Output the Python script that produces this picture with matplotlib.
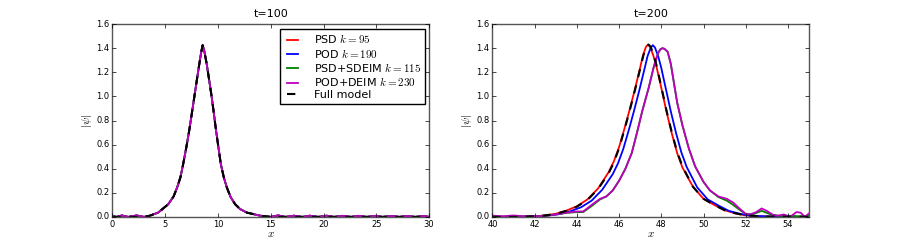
''' NLS soliton: reduced models vs full model at t=100 and t=200 '''

import numpy as np
import matplotlib
matplotlib.use('Agg')
import matplotlib.pyplot as plt

plt.style.use('classic')
plt.rcParams['figure.facecolor'] = 'white'
plt.rcParams['savefig.facecolor'] = 'white'
plt.rcParams['mathtext.fontset'] = 'cm'
plt.rcParams['font.family'] = ['DejaVu Sans']

labels = [r'PSD $k=95$', r'POD $k=190$', r'PSD+SDEIM $k=115$',
          r'POD+DEIM $k=230$', 'Full model']
colors = ['r', 'b', 'g', 'm']

# ---- t = 100 (all models on top of each other) ----
x100 = [0, 3, 3.55, 4.34, 5.29, 5.8, 6.14, 6.45, 6.71, 7.0, 7.28, 7.52, 7.76,
        8.0, 8.24, 8.4, 8.55, 8.7, 8.93, 9.17, 9.41, 9.62, 9.82, 10.05,
        10.27, 10.55, 10.84, 11.2, 11.63, 12.1, 12.73, 14.0, 15, 30]
full100 = [0, 0, 0.01, 0.036, 0.105, 0.17, 0.245, 0.33, 0.44, 0.575, 0.717,
           0.855, 0.994, 1.135, 1.272, 1.36, 1.425, 1.38, 1.272, 1.135, 0.994,
           0.855, 0.717, 0.575, 0.44, 0.33, 0.245, 0.165, 0.105, 0.065, 0.036,
           0.01, 0, 0]

# reduced models at t=100 with the small ripples on the baseline
x100_rom = [0, 0.4, 0.9, 1.5, 2.3, 3.0, 3.55, 4.34, 5.29, 5.8, 6.14, 6.45,
            6.71, 7.0, 7.28, 7.52, 7.76, 8.0, 8.24, 8.4, 8.55, 8.7, 8.93,
            9.17, 9.41, 9.62, 9.82, 10.05, 10.27, 10.55, 10.84, 11.2, 11.63,
            12.1, 12.73, 14.0, 15,
            15.7, 16.4, 17.2, 18.0, 18.7, 19.5, 20.3, 21.0, 21.8, 22.6, 23.3,
            24.1, 24.9, 25.6, 26.4, 27.2, 27.9, 28.7, 29.5, 30]
rom100 = [0.008, 0.0, 0.012, 0.0, 0.012, 0.0, 0.01, 0.036, 0.105, 0.17,
          0.245, 0.33, 0.44, 0.575, 0.717, 0.855, 0.994, 1.135, 1.272, 1.36,
          1.425, 1.38, 1.272, 1.135, 0.994, 0.855, 0.717, 0.575, 0.44, 0.33,
          0.245, 0.165, 0.105, 0.065, 0.036, 0.01, 0.0,
          0.012, 0.0, 0.01, 0.0, 0.01, 0.0, 0.01, 0.0, 0.009, 0.0, 0.009,
          0.0, 0.009, 0.0, 0.008, 0.0, 0.008, 0.0, 0.008, 0.0]

# ---- t = 200 ----
x200_full = [40, 41, 42, 42.5, 43, 43.5, 44, 44.5, 45, 45.5, 45.75, 46, 46.25,
             46.5, 46.75, 47, 47.15, 47.3, 47.4, 47.5, 47.65, 47.8, 48, 48.25,
             48.5, 48.75, 49, 49.5, 50, 50.5, 51, 51.5, 52, 53, 55]
full200 = [0, 0, 0.005, 0.012, 0.025, 0.05, 0.085, 0.14, 0.23, 0.36, 0.45,
           0.57, 0.72, 0.88, 1.05, 1.23, 1.34, 1.41, 1.43, 1.41, 1.34, 1.24,
           1.08, 0.88, 0.70, 0.54, 0.42, 0.25, 0.15, 0.1, 0.055, 0.03, 0.012,
           0.003, 0]

x200_psd = [40, 41, 42, 42.5, 43, 43.5, 44, 44.5, 45, 45.5, 45.75, 46, 46.25,
            46.5, 46.75, 47, 47.13, 47.27, 47.37, 47.47, 47.62, 47.78, 48,
            48.25, 48.5, 48.75, 49, 49.5, 50, 50.5, 51, 51.5, 52, 53, 55]
psd200 = [0, 0, 0.005, 0.012, 0.026, 0.052, 0.088, 0.145, 0.235, 0.37, 0.46,
          0.58, 0.73, 0.89, 1.06, 1.24, 1.34, 1.41, 1.43, 1.41, 1.34, 1.24,
          1.07, 0.87, 0.69, 0.53, 0.41, 0.25, 0.15, 0.1, 0.055, 0.03, 0.012,
          0.003, 0]

x200_pod = [40, 41, 42, 42.7, 43.2, 43.7, 44.2, 44.7, 45.2, 45.7, 45.95, 46.2,
            46.45, 46.7, 46.95, 47.2, 47.35, 47.5, 47.6, 47.7, 47.85, 48.0,
            48.2, 48.45, 48.7, 48.95, 49.2, 49.7, 50.2, 50.7, 51.2, 51.7,
            52.2, 53.2, 55]
pod200 = [0, 0, 0.004, 0.012, 0.024, 0.047, 0.08, 0.135, 0.225, 0.355, 0.445,
          0.565, 0.715, 0.875, 1.045, 1.225, 1.335, 1.405, 1.425, 1.405, 1.335,
          1.235, 1.075, 0.875, 0.695, 0.535, 0.415, 0.245, 0.145, 0.095, 0.05,
          0.027, 0.01, 0.003, 0]

x200_sdeim = [40, 41, 42, 42.5, 43, 43.5, 44, 44.3, 44.7, 45.1, 45.4, 45.7,
              46, 46.3, 46.6, 46.85, 47.1, 47.4, 47.65, 47.85, 47.95, 48.05,
              48.15, 48.3, 48.45, 48.6, 48.75, 49.0, 49.3, 49.6, 50.0, 50.3,
              50.7, 51.1, 51.4, 51.7, 52.0, 52.3, 52.75, 53.2, 53.6, 54.0,
              54.5, 55]
sdeim200 = [0.003, 0.004, 0.004, 0.01, 0.02, 0.033, 0.04, 0.04, 0.09, 0.145,
            0.17, 0.22, 0.3, 0.4, 0.53, 0.7, 0.88, 1.07, 1.25, 1.36, 1.39,
            1.40, 1.395, 1.37, 1.27, 1.11, 0.95, 0.76, 0.57, 0.42, 0.29, 0.22,
            0.165, 0.135, 0.1, 0.06, 0.025, 0.02, 0.05, 0.02, 0.008, 0.01,
            0.005, 0.01]

x200_deim = [40, 40.5, 41, 41.5, 42, 42.5, 43, 43.5, 44, 44.3, 44.7, 45.1,
             45.4, 45.7, 46, 46.3, 46.6, 46.85, 47.1, 47.4, 47.65, 47.85,
             47.95, 48.05, 48.15, 48.3, 48.45, 48.6, 48.75, 49.0, 49.3, 49.6,
             50.0, 50.3, 50.7, 51.1, 51.4, 51.7, 52.0, 52.2, 52.5, 52.75,
             53.0, 53.3, 53.5, 53.8, 54.1, 54.4, 54.6, 54.8, 55]
deim200 = [0.01, 0.005, 0.012, 0.005, 0.005, 0.01, 0.02, 0.035, 0.045, 0.045,
           0.1, 0.15, 0.17, 0.22, 0.3, 0.4, 0.53, 0.7, 0.88, 1.07, 1.25, 1.36,
           1.39, 1.40, 1.395, 1.37, 1.27, 1.11, 0.95, 0.76, 0.57, 0.42, 0.29,
           0.22, 0.17, 0.15, 0.12, 0.07, 0.025, 0.02, 0.04, 0.07, 0.05, 0.015,
           0.01, 0.02, 0.0, 0.04, 0.035, 0.0, 0.03]

fig = plt.figure(figsize=(8.99, 2.41), dpi=100)

ax1 = plt.subplot(1, 2, 1)
for c in colors:
    ax1.plot(x100_rom, rom100, color=c, lw=1.3)
ax1.plot(x100, full100, 'k--', lw=1.5)
ax1.set_xlim(0, 30)
ax1.set_xticks(np.arange(0, 31, 5))
ax1.set_title('t=100', fontsize=8)

ax2 = plt.subplot(1, 2, 2)
ax2.plot(x200_psd, psd200, color='r', lw=1.3)
ax2.plot(x200_pod, pod200, color='b', lw=1.3)
ax2.plot(x200_sdeim, sdeim200, color='g', lw=1.3)
ax2.plot(x200_deim, deim200, color='m', lw=1.3)
ax2.plot(x200_full, full200, 'k--', lw=1.5)
ax2.set_xlim(40, 55)
ax2.set_xticks(np.arange(40, 55, 2))
ax2.set_title('t=200', fontsize=8)

for ax in (ax1, ax2):
    ax.set_ylim(0, 1.6)
    ax.set_yticks(np.arange(0, 1.61, 0.2))
    ax.tick_params(labelsize=6, length=3, pad=2)
    ax.set_xlabel(r'$x$', fontsize=8, labelpad=0)
    ax.set_ylabel(r'$|\psi|$', fontsize=8, labelpad=2)
    for s in ax.spines.values():
        s.set_color('#555555')

ax1.legend(labels, loc='upper right', fontsize=8, handlelength=1.6,
           borderpad=0.35, labelspacing=0.12, handletextpad=1.1,
           borderaxespad=0.4)

plt.subplots_adjust(left=0.125, right=0.9, bottom=0.1, top=0.9, wspace=0.2)
plt.savefig('out.png', dpi=100)
